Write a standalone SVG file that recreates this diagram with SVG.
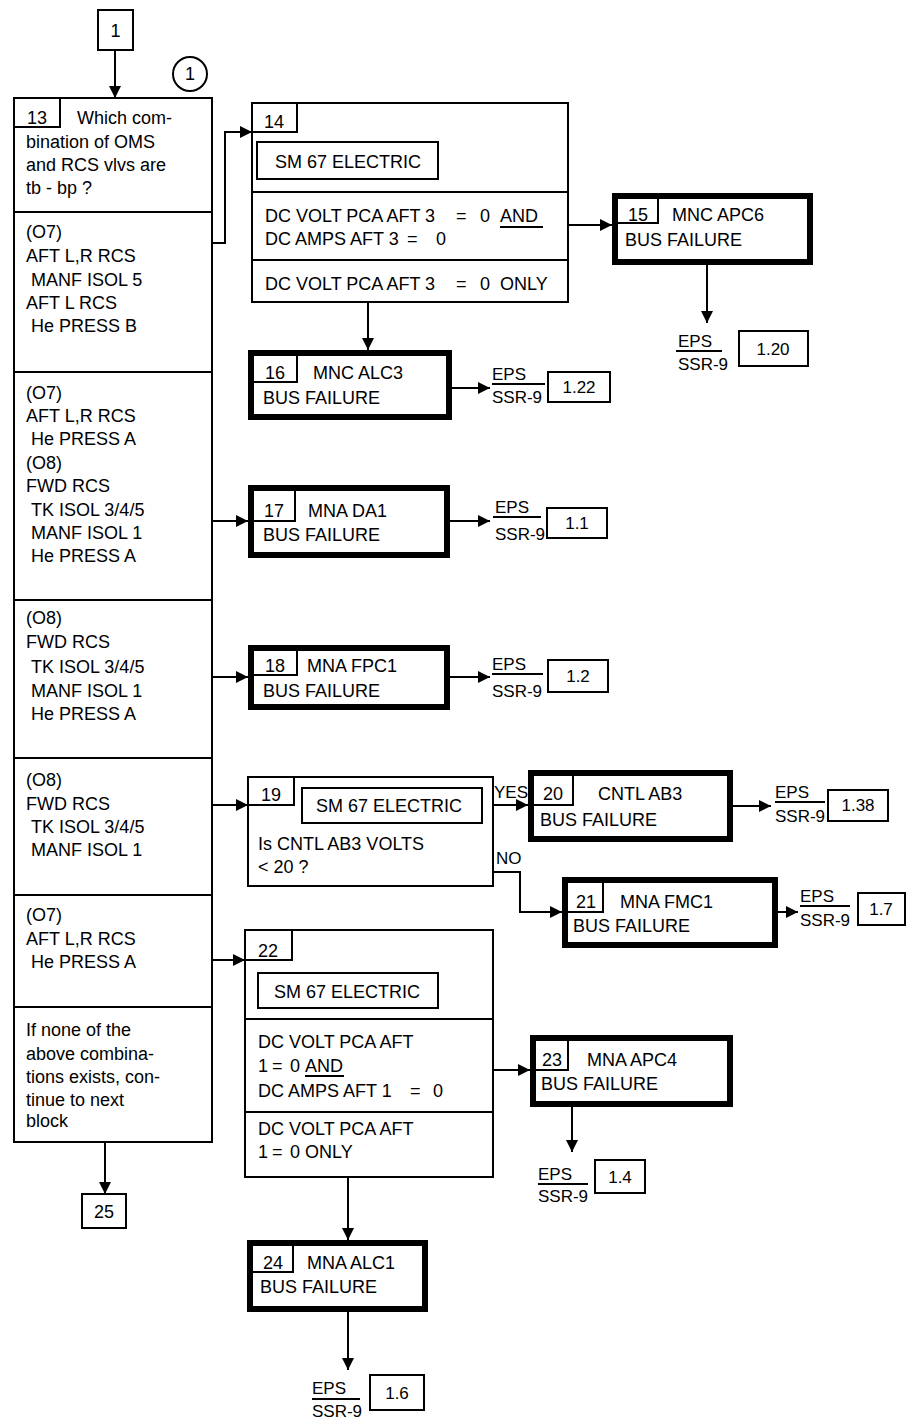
<svg xmlns="http://www.w3.org/2000/svg" width="914" height="1427" viewBox="0 0 914 1427">
<style>
text{font-family:"Liberation Sans",Arial,sans-serif;font-size:18px;fill:#000}
.s{font-size:17px}
.m{text-anchor:middle}
.box{fill:#fff;stroke:#000;stroke-width:2}
.thick{fill:#fff;stroke:#000;stroke-width:6}
.ln{fill:none;stroke:#000;stroke-width:2}
.ar{fill:none;stroke:#000;stroke-width:2;marker-end:url(#ah)}
</style>
<defs>
<marker id="ah" viewBox="0 0 12 12" refX="12" refY="6" markerWidth="12" markerHeight="12" markerUnits="userSpaceOnUse" orient="auto">
<path d="M0,0 L12,6 L0,12 z" fill="#000"/>
</marker>
</defs>
<rect width="914" height="1427" fill="#fff"/>

<g id="connectors">
<path class="ar" d="M115,50 V98"/>
<path class="ar" d="M212,243 H225 V132 H252"/>
<path class="ar" d="M568,225 H612"/>
<path class="ar" d="M368,302 V350"/>
<path class="ar" d="M707,265 V323"/>
<path class="ar" d="M452,388 H490"/>
<path class="ar" d="M212,521 H248"/>
<path class="ar" d="M450,521 H490"/>
<path class="ar" d="M212,677 H248"/>
<path class="ar" d="M450,677 H490"/>
<path class="ar" d="M212,805 H248"/>
<path class="ar" d="M493,805 H528"/>
<path class="ar" d="M733,806 H771"/>
<path class="ar" d="M493,872 H520 V912 H562"/>
<path class="ar" d="M778,912 H798"/>
<path class="ar" d="M212,960 H245"/>
<path class="ar" d="M493,1070 H530"/>
<path class="ar" d="M572,1107 V1152"/>
<path class="ar" d="M348,1177 V1240"/>
<path class="ar" d="M348,1312 V1370"/>
<path class="ar" d="M105,1142 V1194"/>
<text x="494" y="798" class="s">YES</text>
<text x="496" y="864" class="s">NO</text>
</g>

<g id="n1">
<rect class="box" x="98" y="10" width="35" height="40"/>
<text x="115.5" y="37" class="m">1</text>
</g>

<g id="circle1">
<circle cx="190" cy="74" r="17" fill="#fff" stroke="#000" stroke-width="2"/>
<text x="190" y="80" class="m">1</text>
</g>

<g id="n13">
<rect class="box" x="14" y="98" width="198" height="1044"/>
<path class="ln" d="M14,212 H212 M14,372 H212 M14,600 H212 M14,758 H212 M14,895 H212 M14,1007 H212"/>
<path class="ln" d="M14,127 H60 V98"/>
<text x="37" y="124" class="m">13</text>
<text x="77" y="124">Which com-</text>
<text x="26" y="148">bination of OMS</text>
<text x="26" y="171">and RCS vlvs are</text>
<text x="26" y="194">tb - bp  ?</text>
<text x="26" y="238">(O7)</text>
<text x="26" y="262">AFT L,R RCS</text>
<text x="31" y="286">MANF ISOL 5</text>
<text x="26" y="309">AFT L RCS</text>
<text x="31" y="332">He PRESS B</text>
<text x="26" y="399">(O7)</text>
<text x="26" y="422">AFT L,R RCS</text>
<text x="31" y="445">He PRESS A</text>
<text x="26" y="469">(O8)</text>
<text x="26" y="492">FWD RCS</text>
<text x="31" y="516">TK ISOL 3/4/5</text>
<text x="31" y="539">MANF ISOL 1</text>
<text x="31" y="562">He PRESS A</text>
<text x="26" y="624">(O8)</text>
<text x="26" y="648">FWD RCS</text>
<text x="31" y="673">TK ISOL 3/4/5</text>
<text x="31" y="697">MANF ISOL 1</text>
<text x="31" y="720">He PRESS A</text>
<text x="26" y="786">(O8)</text>
<text x="26" y="810">FWD RCS</text>
<text x="31" y="833">TK ISOL 3/4/5</text>
<text x="31" y="856">MANF ISOL 1</text>
<text x="26" y="921">(O7)</text>
<text x="26" y="945">AFT L,R RCS</text>
<text x="31" y="968">He PRESS A</text>
<text x="26" y="1036">If none of the</text>
<text x="26" y="1060">above combina-</text>
<text x="26" y="1083">tions exists, con-</text>
<text x="26" y="1106">tinue to next</text>
<text x="26" y="1127">block</text>
</g>

<g id="n14">
<rect class="box" x="252" y="103" width="316" height="199"/>
<path class="ln" d="M252,132 H297 V103 M252,192 H568 M252,260 H568"/>
<text x="274" y="128" class="m">14</text>
<rect class="box" x="257" y="142" width="181" height="37"/>
<text x="275" y="168">SM 67 ELECTRIC</text>
<text x="265" y="222">DC VOLT PCA AFT 3</text>
<text x="456" y="222">=</text>
<text x="480" y="222">0</text>
<text x="500" y="222">AND</text>
<path class="ln" d="M500,227 H543"/>
<text x="265" y="245">DC AMPS AFT 3</text>
<text x="407" y="245">=</text>
<text x="436" y="245">0</text>
<text x="265" y="290">DC VOLT PCA AFT 3</text>
<text x="456" y="290">=</text>
<text x="480" y="290">0</text>
<text x="500" y="290">ONLY</text>
</g>

<g id="n15">
<rect class="thick" x="615" y="196" width="195" height="66"/>
<path class="ln" d="M618,223 H658 V199"/>
<text x="638" y="221" class="m">15</text>
<text x="672" y="221">MNC APC6</text>
<text x="625" y="246">BUS FAILURE</text>
</g>
<g id="r15">
<text x="678" y="347" class="s">EPS</text>
<path class="ln" d="M676,351 H722"/>
<text x="678" y="370" class="s">SSR-9</text>
<rect class="box" x="739" y="331" width="69" height="35"/>
<text x="773" y="355" class="s m">1.20</text>
</g>

<g id="n16">
<rect class="thick" x="251" y="353" width="198" height="64"/>
<path class="ln" d="M254,382 H297 V356"/>
<text x="275" y="379" class="m">16</text>
<text x="313" y="379">MNC ALC3</text>
<text x="263" y="404">BUS FAILURE</text>
</g>
<g id="r16">
<text x="492" y="380" class="s">EPS</text>
<path class="ln" d="M492,384 H545"/>
<text x="492" y="403" class="s">SSR-9</text>
<rect class="box" x="548" y="372" width="62" height="30"/>
<text x="579" y="393" class="s m">1.22</text>
</g>

<g id="n17">
<rect class="thick" x="251" y="488" width="196" height="67"/>
<path class="ln" d="M254,521 H295 V491"/>
<text x="274" y="517" class="m">17</text>
<text x="308" y="517">MNA DA1</text>
<text x="263" y="541">BUS FAILURE</text>
</g>
<g id="r17">
<text x="495" y="513" class="s">EPS</text>
<path class="ln" d="M493,517 H541"/>
<text x="495" y="540" class="s">SSR-9</text>
<rect class="box" x="547" y="508" width="60" height="30"/>
<text x="577" y="529" class="s m">1.1</text>
</g>

<g id="n18">
<rect class="thick" x="251" y="648" width="196" height="59"/>
<path class="ln" d="M254,675 H297 V651"/>
<text x="275" y="672" class="m">18</text>
<text x="307" y="672">MNA FPC1</text>
<text x="263" y="697">BUS FAILURE</text>
</g>
<g id="r18">
<text x="492" y="670" class="s">EPS</text>
<path class="ln" d="M492,674 H543"/>
<text x="492" y="697" class="s">SSR-9</text>
<rect class="box" x="548" y="660" width="60" height="32"/>
<text x="578" y="682" class="s m">1.2</text>
</g>

<g id="n19">
<rect class="box" x="248" y="777" width="245" height="109"/>
<path class="ln" d="M248,805 H294 V777"/>
<text x="271" y="801" class="m">19</text>
<rect class="box" x="302" y="788" width="180" height="35"/>
<text x="316" y="812">SM 67 ELECTRIC</text>
<text x="258" y="850">Is CNTL AB3 VOLTS</text>
<text x="258" y="873">&lt; 20 ?</text>
</g>

<g id="n20">
<rect class="thick" x="531" y="773" width="199" height="66"/>
<path class="ln" d="M534,805 H573 V776"/>
<text x="553" y="800" class="m">20</text>
<text x="598" y="800">CNTL AB3</text>
<text x="540" y="826">BUS FAILURE</text>
</g>
<g id="r20">
<text x="775" y="798" class="s">EPS</text>
<path class="ln" d="M775,802 H825"/>
<text x="775" y="822" class="s">SSR-9</text>
<rect class="box" x="828" y="790" width="60" height="31"/>
<text x="858" y="811" class="s m">1.38</text>
</g>

<g id="n21">
<rect class="thick" x="565" y="880" width="210" height="65"/>
<path class="ln" d="M568,912 H603 V883"/>
<text x="586" y="908" class="m">21</text>
<text x="620" y="908">MNA FMC1</text>
<text x="573" y="932">BUS FAILURE</text>
</g>
<g id="r21">
<text x="800" y="902" class="s">EPS</text>
<path class="ln" d="M800,906 H850"/>
<text x="800" y="926" class="s">SSR-9</text>
<rect class="box" x="858" y="893" width="47" height="32"/>
<text x="881" y="915" class="s m">1.7</text>
</g>

<g id="n22">
<rect class="box" x="245" y="930" width="248" height="247"/>
<path class="ln" d="M245,960 H292 V930 M245,1019 H493 M245,1112 H493"/>
<text x="268" y="957" class="m">22</text>
<rect class="box" x="258" y="973" width="180" height="35"/>
<text x="274" y="998">SM 67 ELECTRIC</text>
<text x="258" y="1048">DC VOLT PCA AFT</text>
<text x="258" y="1072">1</text>
<text x="272" y="1072">=</text>
<text x="290" y="1072">0</text>
<text x="305" y="1072">AND</text>
<path class="ln" d="M305,1076 H344"/>
<text x="258" y="1097">DC AMPS AFT 1</text>
<text x="410" y="1097">=</text>
<text x="433" y="1097">0</text>
<text x="258" y="1135">DC VOLT PCA AFT</text>
<text x="258" y="1158">1</text>
<text x="272" y="1158">=</text>
<text x="290" y="1158">0 ONLY</text>
</g>

<g id="n23">
<rect class="thick" x="533" y="1038" width="197" height="66"/>
<path class="ln" d="M536,1070 H568 V1041"/>
<text x="552" y="1066" class="m">23</text>
<text x="587" y="1066">MNA APC4</text>
<text x="541" y="1090">BUS FAILURE</text>
</g>
<g id="r23">
<text x="538" y="1180" class="s">EPS</text>
<path class="ln" d="M538,1184 H588"/>
<text x="538" y="1202" class="s">SSR-9</text>
<rect class="box" x="595" y="1160" width="50" height="33"/>
<text x="620" y="1183" class="s m">1.4</text>
</g>

<g id="n24">
<rect class="thick" x="250" y="1243" width="175" height="66"/>
<path class="ln" d="M253,1272 H293 V1246"/>
<text x="273" y="1269" class="m">24</text>
<text x="307" y="1269">MNA ALC1</text>
<text x="260" y="1293">BUS FAILURE</text>
</g>
<g id="r24">
<text x="312" y="1394" class="s">EPS</text>
<path class="ln" d="M312,1399 H360"/>
<text x="312" y="1417" class="s">SSR-9</text>
<rect class="box" x="370" y="1375" width="54" height="35"/>
<text x="397" y="1399" class="s m">1.6</text>
</g>

<g id="n25">
<rect class="box" x="82" y="1194" width="44" height="34"/>
<text x="104" y="1218" class="m">25</text>
</g>
</svg>
